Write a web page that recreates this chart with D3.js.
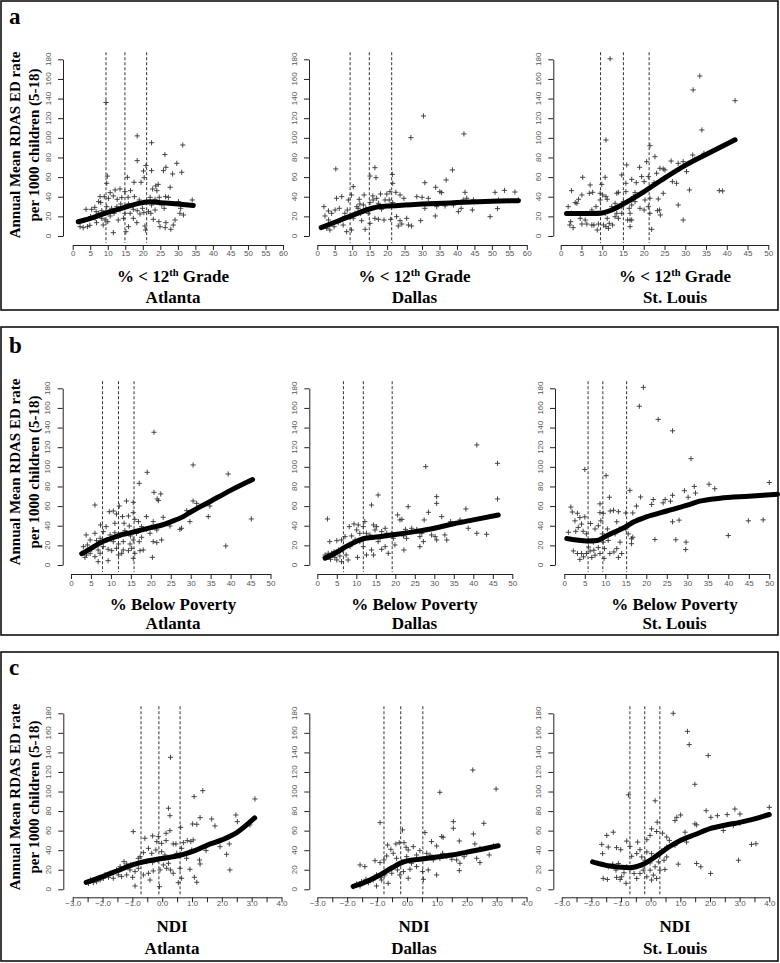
<!DOCTYPE html>
<html><head><meta charset="utf-8">
<script src="https://cdn.jsdelivr.net/npm/d3@7"></script>
<style>body{margin:0;background:#fff}</style>
</head><body><svg id="c" width="780" height="963"></svg>
<script>
// ---------------- DATA ----------------
const cities = ["Atlanta", "Dallas", "St. Louis"];
const panelLetters = ["a", "b", "c"];
const yTitle = ["Annual Mean RDAS ED rate", "per 1000 children (5-18)"];
const yTicks = [0, 20, 40, 60, 80, 100, 120, 140, 160, 180];
const xTicksEdu60 = [0, 5, 10, 15, 20, 25, 30, 35, 40, 45, 50, 55, 60];
const xTicksEdu50 = [0, 5, 10, 15, 20, 25, 30, 35, 40, 45, 50];
const xTicksPov = [0, 5, 10, 15, 20, 25, 30, 35, 40, 45, 50];
const xTicksNdi = [-3, -2.5, -2, -1.5, -1, -0.5, 0, 0.5, 1, 1.5, 2, 2.5, 3, 3.5, 4];

// cut points (dashed lines)
const cutEduAtl = [9.5, 14.9, 21.1];
const cutEduDal = [9.4, 14.9, 21.3];
const cutEduStl = [9.6, 15.1, 21.3];
const cutPovAtl = [7.9, 11.9, 15.8];
const cutPovDal = [6.7, 11.8, 19.2];
const cutPovStl = [5.8, 9.4, 15.2];
const cutNdiAtl = [-0.71, -0.11, 0.60];
const cutNdiDal = [-0.77, -0.21, 0.53];
const cutNdiStl = [-0.70, -0.20, 0.31];

// scatter points [x, rate]
const eduAtl = [[9.5,136],[18.4,102],[22.5,95],[31.4,92.7],[26.3,83],[18.4,76.8],[29.7,74],[26.6,70],[20.9,71.7],[20.2,66.2],[22.5,66.6],[25.9,66.6],[28.5,63.2],[31.1,64.9],[9.9,61],[15.6,59.8],[9.7,53.7],[17.5,54.7],[19.5,54.7],[20.4,59.4],[24.4,52.6],[23.7,51],[27.8,49.6],[22.8,47.9],[24,46.2],[12.1,46.9],[13.5,47.9],[16.5,46.2],[10.7,44.2],[14.9,45.2],[8,34],[7.8,40.1],[9,40.1],[10.2,38.4],[11.6,40.8],[12.7,37.4],[14,39.1],[15.8,39.4],[17.6,40.1],[19,36.7],[21.1,35],[22.1,39.4],[23.5,37.4],[24.7,39.4],[26.5,40.1],[27.3,39.4],[30.2,35],[34.1,36.7],[25.4,31.6],[22.5,31.6],[23.5,26.5],[26.1,28.2],[30.8,28.2],[30.6,23.1],[31.6,21.4],[29.2,16.3],[23,17],[24.6,14.6],[26.6,13.6],[24.9,9.5],[28.7,11.2],[28,6.8],[26.4,8.5],[20.8,6.1],[20.6,10.2],[2.1,9.5],[3,8.5],[4.2,9.5],[4.9,10.9],[3.3,16.3],[3.8,27.2],[5.4,27.2],[6.7,24.8],[7.4,35],[6.3,29.2],[7.4,23.1],[8.3,18],[9.2,16.3],[10,14.6],[10.7,20.4],[11.8,23.1],[11.6,3.4],[13,16.3],[14.5,18],[15.2,4.4],[15.9,9.5],[14.9,23.1],[16.4,23.1],[17.3,18],[18.3,13.6],[18.4,25.8],[19.2,22.4],[19.9,28.2],[20.3,23.8],[21.6,24.8],[22.3,23.1],[8.7,11.2],[6.8,13.6],[12.6,29.9],[13.7,32.6],[11.1,28.2],[9.7,29.9],[15.9,32.6],[17.1,30.6],[9.2,23.1],[13.5,26.5],[17.3,27.2],[5.1,19.7],[6.4,18],[8.3,25.8]];
const eduDal = [[30.4,122.3],[42,104],[26.8,100.2],[38.7,67.3],[5.3,68.3],[16.5,69.6],[15.1,61.1],[16.8,59.4],[21.5,62.8],[21.6,53.7],[30.8,54.3],[36.9,57.1],[33.9,49.6],[35.1,45.2],[35.6,44.2],[42.3,44.5],[50.9,44.5],[53.6,46.5],[56.6,44.8],[57.6,36.7],[51.9,36.7],[51.6,27.9],[49.5,19.7],[44.7,36.7],[42.8,38.4],[41.8,36.7],[44.4,26.5],[40.4,24.8],[41.2,28.2],[33.8,20.4],[34.2,29.9],[36.6,30.6],[39,31.6],[31.8,38.4],[30.8,28.2],[29.6,15.6],[28.5,40.1],[30,39.4],[27,10.2],[25.6,18],[26.1,11.2],[24.2,12.2],[23.2,10.2],[24.8,38.4],[23.7,41.8],[22.5,44.5],[20.8,45.2],[19.9,42.8],[18.1,42.8],[17,38.4],[19.4,36.7],[20.6,36.7],[21.6,34],[21,17],[17.5,17],[19.1,16.3],[16.5,18],[15.1,12.9],[13.7,6.8],[12.7,15.6],[14.6,23.1],[13.9,28.2],[13.2,31.6],[12.2,32.6],[15.1,34],[16,36.7],[13.4,41.8],[11.7,28.2],[10.8,23.1],[10.3,18],[9.8,6.1],[10.3,50.3],[9.8,41.8],[8.9,36.7],[8.6,26.5],[7.9,23.1],[7.3,18],[7,40.1],[5.5,38.4],[6.3,28.2],[5.1,26.5],[4.1,23.1],[3.2,16.3],[2.2,20.4],[1.9,29.9],[3.2,25.5],[3.6,6.1],[4.8,9.5],[6,13.6],[7.4,11.2],[8.4,4.4],[2.7,7.8],[11.3,29.9],[12,37.4],[12.4,23.1],[15.9,40.8],[17.5,33.3],[18.4,27.2],[22.7,19.7],[23.7,15.6]];
const eduStl = [[11.9,180.5],[33.5,163],[31.9,148.8],[42,137.9],[10.9,97.8],[34,108],[34.5,84.2],[31.8,82.5],[32.3,78.1],[22.7,80.8],[21.5,92],[26.6,76.4],[29.5,75.7],[28.3,74],[20.7,75.7],[21.1,60.5],[19,70],[15.9,72.4],[14.7,62.2],[15.7,53.7],[17.1,57.7],[18.2,54.3],[19.5,60.5],[20.1,55.4],[22.5,54.3],[23.1,63.9],[23.9,69],[24.7,68.3],[24.7,43.5],[23.5,37.7],[23.8,26.5],[23.3,25.8],[24,21.4],[21.5,23.1],[21.9,6.8],[21.1,29.9],[21.5,38.4],[20.3,36.7],[20.1,26.5],[19.1,28.2],[17.9,35],[17.5,40.1],[17.9,44.2],[17.1,31.6],[16.5,28.2],[16.7,23.1],[16.7,16.3],[17.1,16.3],[16.1,16.3],[16.7,9.5],[15.7,45.2],[15.1,35],[14.7,23.1],[14.7,29.9],[13.5,43.5],[13.9,44.5],[13.1,33.3],[13.5,23.1],[13.9,18],[13.1,19.7],[12.3,29.9],[11.7,12.9],[12.5,11.2],[11.2,37.4],[10.9,40.1],[10.7,59.8],[9.9,52.6],[9.5,43.5],[10.1,41.8],[9.5,36.7],[10.7,23.1],[11.2,18],[10.9,9.5],[11.5,7.8],[10.3,11.2],[9.1,12.2],[8,11.2],[8.8,6.1],[7.5,11.2],[6.3,12.2],[8.5,29.9],[7.5,26.5],[7.7,44.5],[7.1,52],[5.3,59.8],[6.9,43.5],[5.9,16.3],[4.7,18],[5.1,12.2],[4.3,37.4],[5.1,41.8],[3.5,34],[3.9,33.3],[2.6,46.2],[1.8,29.9],[2.6,23.1],[2.2,11.2],[3,8.5],[2.4,14.6],[28.3,31.6],[29.5,16.3],[31,46.9],[27.9,53.7],[30.3,65.6],[38.2,46.2],[39,45.9],[25.1,67.3],[26.9,55.4]];
const povAtl = [[20.8,135.2],[30.6,101.9],[19.1,94.4],[39.4,92.7],[17.1,83.2],[20.8,74],[22.5,72.4],[21.6,67.3],[21.9,65.6],[30.6,65.2],[31.5,62.8],[34.8,60.1],[15.6,63.9],[13.9,65.2],[12.1,60.1],[6,61.1],[9.6,54.3],[10.6,55],[11.4,52],[12.9,49.3],[14.4,49.9],[15.6,53.3],[18.9,49.3],[16,46.5],[20.6,44.2],[23.1,48.6],[29,55.4],[29.8,44.2],[7.4,40.8],[8.8,39.1],[11,42.5],[13.3,42.5],[14.6,39.7],[16.9,44.2],[17.7,39.1],[18.9,36.3],[20.2,38.4],[21.5,35.7],[24.8,39.7],[27.3,36.3],[8.1,34],[9.8,30.6],[11,32.9],[12.3,30.6],[13.5,35],[14.9,29.6],[16.4,32.3],[17.7,28.2],[19.8,32.3],[3.8,30.6],[6,32.3],[4.8,25.5],[6.4,24.8],[7.3,27.2],[9,25.5],[10.6,23.8],[11.9,21.4],[13.1,23.8],[14.8,21.4],[15.6,25.5],[17.1,23.8],[20.6,23.8],[21.5,22.8],[22.7,25.5],[3.1,18.7],[4.1,20.4],[5.2,16],[6.8,15.3],[8.1,18.7],[9.3,16],[10.2,14.6],[11.4,17],[13.1,15.3],[14.4,14.6],[15.2,17],[17.3,14.6],[18.1,15.3],[2.7,11.9],[3.9,10.2],[4.8,11.9],[6,8.5],[3.5,7.8],[7.3,11.9],[6.8,3.4],[9.3,4.4],[11.9,10.2],[12.7,11.9],[15.6,6.8],[16,11.9],[20.4,7.8],[38.8,19.4],[45.2,46.9],[34.4,49.3],[27.7,37.4]];
const povDal = [[40.9,122.3],[46.2,103.6],[27.8,100.2],[46.2,67.3],[30.6,69.6],[30.6,62.8],[15.6,71.3],[13.9,61.1],[23.3,59.4],[38.1,57.1],[28.5,53.7],[31.9,49.3],[2.6,46.9],[27.4,45.9],[34.2,44.2],[36.6,45.9],[38.7,37.4],[20.6,51],[21.2,45.9],[21.7,46.5],[22.6,36.3],[24.2,37.4],[25.5,36.3],[26.8,32.3],[26.3,28.9],[27.2,23.8],[26.3,18.7],[29.3,30.6],[30.2,28.9],[30.6,25.5],[33.2,25.5],[32.7,30.6],[40.9,32.3],[43.4,31.3],[22.2,15.3],[22.9,27.2],[22.1,29.6],[19.9,20.4],[19.5,27.2],[19.1,32.3],[18.2,11.9],[17.4,18.7],[16.5,16],[17.8,32.3],[17.4,37.4],[16.5,34],[15.2,39.1],[14.4,40.8],[14.8,35.7],[13.5,30.6],[12.6,32.3],[12.2,44.2],[11.8,39.1],[13.9,15.3],[12.6,10.2],[14.4,10.2],[11.8,18.7],[10.9,23.8],[10.9,32.3],[10.5,40.8],[10.1,35.7],[9.4,41.8],[8.2,39.1],[8.8,29.6],[9.7,25.5],[8.4,18.7],[10.3,7.8],[7.9,5.1],[7.1,28.9],[6.2,25.5],[6.5,15.3],[5.8,9.2],[5,24.8],[5.4,15.3],[4.3,13.6],[4.5,7.8],[3.4,5.8],[3.2,23.8],[2.8,11.9],[2.4,7.8],[2,10.2],[3.7,11.9],[6.2,3.4],[5,5.1],[7.4,10.2],[16.1,27.2],[15.6,23.8]];
const povStl = [[19.3,181],[18.3,161.7],[22.9,148.3],[26.4,136.7],[30.9,108.3],[5,97.3],[10.2,91],[50,84],[35.3,82.3],[31.7,80],[36.7,77.7],[16,76],[29.3,75.7],[32,73.3],[26.4,71],[18.6,69.3],[11,69],[21.7,66.7],[24.6,66.7],[25.9,65],[21.3,61.7],[17.6,60],[1.6,59],[8.7,62.3],[11.2,55],[12,55.7],[13.2,54.3],[15,53],[16.7,53],[8.7,53.3],[9.5,52.7],[1.95,54],[3.2,52.7],[3.8,48.3],[2.6,45],[5,49],[6.4,42.3],[4.2,41.7],[3.4,38.3],[2.8,34.3],[1,33.3],[4.6,34.3],[5.4,31.7],[7.5,36.7],[8.3,40],[10.5,36.7],[11.1,31.7],[12.8,44],[13.4,36.7],[12.4,31.7],[15,36.7],[15.6,31.7],[16.4,26.7],[16.7,28.3],[16.4,21.7],[8.9,45],[9.3,31.7],[9.5,23.3],[10.7,25],[9.8,16.7],[9.7,6.7],[11.1,11.7],[12.1,13.3],[12.8,16.7],[13.6,23.3],[14,11.7],[13.2,7.7],[7.1,23.3],[5.9,18.3],[6.3,14.3],[7.2,15],[7.5,10],[6.7,7.7],[5.4,11.7],[4.2,11.7],[3.8,5.7],[3.2,11.7],[2.2,14.3],[4.7,8.3],[8.3,17.7],[8.7,11.7],[22.1,26],[27.2,25.7],[29.7,23.3],[29.6,15.7],[28,45.7],[26.4,44],[40,30],[44.9,45],[48.5,46],[30.2,69],[24.1,63.3]];
const ndiAtl = [[0.28,135],[1.36,100.9],[1.07,94.8],[3.11,92.4],[0.21,82.9],[2.47,76],[1.27,73.3],[1.66,71.9],[0.26,75.3],[1.02,66.8],[1.16,66.5],[0.62,63.4],[1.77,64.8],[-0.97,59],[0.26,60],[2.94,65.8],[2.52,69.2],[0.13,57.3],[-0.13,53.9],[-0.32,54.6],[-0.58,52.2],[-0.18,48.8],[-0.02,47],[0.13,49.8],[0.37,46.4],[0.46,46.4],[0.71,47.7],[0.84,49.8],[0.96,48.8],[1.04,50.5],[1.47,39.6],[1.94,43.6],[2.25,46.4],[2.27,19.8],[2.16,35.8],[0.82,31.7],[0.99,40.2],[1.25,30],[1.27,25.9],[0.93,20.5],[1.08,12.3],[1.16,7.2],[0.6,21.5],[0.65,11.3],[0.54,6.8],[0.37,16.4],[0.28,19.8],[0.21,26.6],[0.09,35.1],[-0.02,38.5],[-0.21,40.2],[-0.35,36.8],[-0.46,41.9],[-0.63,37.5],[-0.74,33.4],[-0.52,28.3],[-0.32,27.3],[-0.16,30],[0.04,24.9],[0.15,21.5],[-0.07,19.8],[-0.3,18.8],[-0.46,16.4],[-0.63,14.7],[-0.41,9.5],[-0.8,21.5],[-0.91,18.1],[-0.99,12.3],[-0.91,3.4],[-1.08,19.8],[-1.19,25.9],[-1.28,28.3],[-1.41,23.2],[-1.53,19.8],[-1.64,17],[-1.75,16.4],[-1.8,12.3],[-1.64,11.3],[-1.47,14.7],[-1.36,13],[-1.19,14.7],[-1.06,24.9],[-1.97,11.3],[-2.08,9.5],[-2.2,7.8],[-2.31,6.8],[-2.47,6.1],[-2.4,9.5],[-1.92,14.7],[-0.8,31.7],[-0.09,2.7],[0.49,36.8],[0.65,41.9]];
const ndiDal = [[2.2,122],[2.98,102.6],[1.1,99.2],[-0.9,68.2],[-0.15,60.7],[1.55,69.2],[2.57,67.5],[0.6,58],[1.55,62.4],[1.16,53.9],[1.21,53.2],[2.22,56.6],[1.75,49.4],[0.82,48.8],[0.99,44.3],[2.27,46.4],[2.44,41.9],[-0.26,47.7],[-0.1,47.7],[-0.03,43],[-0.37,46.4],[0.04,40.2],[0.21,43.6],[-0.65,45.3],[-0.54,40.9],[-0.46,36.8],[-0.68,34.1],[-0.77,30],[-0.9,27.3],[-1.07,29.3],[-1.57,24.9],[-1.41,23.2],[-0.35,31.7],[-0.18,28.3],[-0.01,33.4],[0.15,26.6],[0.32,23.2],[0.1,20.5],[-0.12,18.1],[-0.24,14.7],[0.04,11.3],[-0.32,19.8],[-0.51,16.4],[-0.63,19.8],[-0.74,14.7],[-0.88,12.3],[-0.63,6.1],[-0.85,9.5],[-1.02,14.7],[-1.13,9.5],[-1.02,3.4],[-1.29,6.8],[-1.37,10.2],[-1.52,7.8],[-1.57,3.4],[-1.68,5.5],[-1.8,2.7],[0.52,18.1],[0.55,10.2],[0.71,19.8],[0.99,14.7],[0.88,30],[1.1,31.7],[1.19,36.8],[1.33,33.4],[1.5,30.7],[1.66,30],[1.75,19.1],[1.77,26.6],[1.91,33.4],[2,36.8],[2.33,31.7],[2.44,27.3],[2.75,35.1],[2.89,44.3],[0.66,36.8],[0.77,35.1],[0.32,35.1],[0.43,39.6]];
const ndiStl = [[0.76,180],[1.24,161.5],[1.3,148],[1.94,136.8],[1.49,107.4],[-0.75,96.6],[0.15,90.5],[4,83.8],[1.87,80.4],[2.84,82.1],[3.01,77],[2.25,75.3],[1.01,76],[0.88,73.6],[0.82,70.3],[2.03,73.6],[2.58,76.4],[1.55,65.9],[1.49,66.9],[0.22,68.6],[0.03,61.8],[0.2,59.1],[0.4,57.4],[-1.26,58.4],[-1.48,55.1],[-1.65,45.9],[-1.43,43.2],[-1.15,42.6],[-1.01,40.5],[-0.81,49.3],[-0.7,43.9],[-0.44,48.3],[-0.13,50.7],[-0.02,55.1],[0.54,53.4],[0.63,50],[1.16,58.4],[1.21,48.3],[0.82,44.9],[0.54,43.2],[0.37,39.2],[0.2,34.8],[0.03,36.5],[-0.13,38.2],[-0.3,33.1],[-0.47,36.5],[-0.64,33.8],[-0.36,40.5],[-0.19,29.7],[-0.02,27],[0.15,23],[0.26,28],[0.45,29.7],[0.31,19.6],[0.48,20.3],[0.2,11.1],[0.09,14.5],[-0.02,19.6],[-0.13,12.8],[0.03,9.5],[-0.25,19.6],[-0.36,16.2],[-0.47,11.1],[-0.56,16.2],[-0.7,20.3],[-0.81,23],[-0.9,16.9],[-0.98,12.8],[-0.83,6.1],[-1.03,10.1],[-1.15,12.2],[-1.17,19.6],[-1.09,26.4],[-1.28,25.7],[-1.43,23],[-1.46,10.1],[-1.6,11.1],[-1.8,27],[-1.62,36.5],[0.93,25.7],[1.55,26.4],[1.69,23],[2.02,16.2],[2.96,29.7],[3.4,45.9],[3.55,46.6],[2.45,60.1],[3.01,67.6],[2.79,65.2],[0.54,33.1]];

// smooth fitted curves [x, rate]
const eduAtlFit = [[1.6,14.5],[5,18],[10,24],[15,29.5],[20,34],[22,35],[25,34],[30,32.5],[34.4,31]];
const eduDalFit = [[1.1,8.5],[5,14],[10,21],[15,27.5],[18,30],[20,30.5],[25,31.5],[30,32.5],[40,34],[50,35.3],[57.6,36]];
const eduStlFit = [[1.4,23],[5,23],[8,23],[10,23.5],[12,26],[15,32.5],[20,45],[25,59],[30,72],[35,83],[42,98]];
const povAtlFit = [[2.7,11.5],[5,17],[8,24],[10,27],[12,30],[15,33],[18,36],[20,38],[23,41],[25,44],[28,49],[30,54],[35,65],[40,76],[45.5,87]];
const povDalFit = [[2,7],[5,13],[7,18],[10,24],[12,27],[15,28.5],[20,31],[25,34],[30,37.5],[35,42],[40,46],[46.4,51]];
const povStlFit = [[0.6,27],[3,25.5],[5.5,24.5],[8,25],[10,29],[12,33],[15,39],[17,44],[20,49],[25,55],[30,61],[33,65],[38,68],[45,70],[52,72]];
const ndiAtlFit = [[-2.55,7],[-2,13],[-1.5,19],[-1,25],[-0.5,29],[0,31.5],[0.5,34],[1,38.5],[1.5,45],[2,50.5],[2.5,58],[3.1,73]];
const ndiDalFit = [[-1.8,3],[-1.5,6],[-1,13],[-0.5,22],[-0.2,27],[0,29],[0.5,31],[1,33],[1.5,35],[2,38],[2.5,41],[3.05,44.5]];
const ndiStlFit = [[-1.96,28],[-1.5,24.5],[-1,22.5],[-0.7,22],[-0.4,24],[-0.2,26.5],[0,30],[0.3,36.5],[0.6,43],[1,50],[1.5,56],[2,62],[2.5,65.5],[3,68.5],[3.5,72],[4,76.5]];

// ---------------- LAYOUT ----------------
const serif = "'Liberation Serif','Times New Roman',serif";
const sans = "'Liberation Sans',Arial,Helvetica,sans-serif";
const rows = [
  {box:[1,310], letterY:24, y0:236, y180:59.3, axisY:245, lblDy:12, b1:282, b2:302.5, yTitleC:145,
   cols:[{a:72.7,b:283,ax:63,tc:173},{a:317.3,b:526.8,ax:309,tc:414.5},{a:560.7,b:768.3,ax:553.3,tc:675}]},
  {box:[327,635], letterY:353, y0:565, y180:388.3, axisY:574, lblDy:12.7, b1:609.5, b2:629, yTitleC:472,
   cols:[{a:71,b:270.5,ax:62.7,tc:173},{a:317.3,b:512.3,ax:309.3,tc:414.5},{a:564.3,b:769.3,ax:555,tc:674.5}]},
  {box:[652,961], letterY:675, y0:889.3, y180:713.3, axisY:897.3, lblDy:9.5, b1:931.5, b2:953.5, yTitleC:797,
   cols:[{a:72.7,b:281.5,ax:63.3,tc:172},{a:317.3,b:526.6,ax:309.3,tc:414},{a:561.7,b:769.3,ax:553.3,tc:675}]}
];

const panels = [
  {r:0,c:0,pts:eduAtl,fit:eduAtlFit,cuts:cutEduAtl,ticks:xTicksEdu60},
  {r:0,c:1,pts:eduDal,fit:eduDalFit,cuts:cutEduDal,ticks:xTicksEdu60},
  {r:0,c:2,pts:eduStl,fit:eduStlFit,cuts:cutEduStl,ticks:xTicksEdu50},
  {r:1,c:0,pts:povAtl,fit:povAtlFit,cuts:cutPovAtl,ticks:xTicksPov},
  {r:1,c:1,pts:povDal,fit:povDalFit,cuts:cutPovDal,ticks:xTicksPov},
  {r:1,c:2,pts:povStl,fit:povStlFit,cuts:cutPovStl,ticks:xTicksPov},
  {r:2,c:0,pts:ndiAtl,fit:ndiAtlFit,cuts:cutNdiAtl,ticks:xTicksNdi},
  {r:2,c:1,pts:ndiDal,fit:ndiDalFit,cuts:cutNdiDal,ticks:xTicksNdi},
  {r:2,c:2,pts:ndiStl,fit:ndiStlFit,cuts:cutNdiStl,ticks:xTicksNdi}
];

const svg = d3.select("#c");
svg.append("rect").attr("width",780).attr("height",963).attr("fill","#fff");

rows.forEach((R, ri) => {
  svg.append("rect").attr("x",1).attr("y",R.box[0]).attr("width",777).attr("height",R.box[1]-R.box[0])
    .attr("fill","none").attr("stroke","#111").attr("stroke-width",1.6);
  svg.append("text").attr("x",9).attr("y",R.letterY).text(panelLetters[ri])
    .attr("font-family",serif).attr("font-weight","bold").attr("font-size",23).attr("fill","#000");
  yTitle.forEach((t, i) => {
    svg.append("text").attr("transform",`translate(${i===0?15.3:34.2},${R.yTitleC}) rotate(-90)`)
      .attr("text-anchor","middle").attr("dominant-baseline","central")
      .attr("font-family",serif).attr("font-weight","bold").attr("font-size",15).attr("fill","#000").text(t);
  });
  R.cols.forEach((C, ci) => {
    const t1 = svg.append("text").attr("x",C.tc).attr("y",R.b1).attr("text-anchor","middle")
      .attr("font-family",serif).attr("font-weight","bold").attr("font-size",17).attr("fill","#000");
    if (ri === 0) {
      t1.append("tspan").text("% < 12");
      t1.append("tspan").text("th").attr("font-size",10.5).attr("dy",-6);
      t1.append("tspan").text(" Grade").attr("dy",6);
    } else if (ri === 1) {
      t1.text("% Below Poverty");
    } else {
      t1.text("NDI");
    }
    svg.append("text").attr("x",C.tc).attr("y",R.b2).attr("text-anchor","middle")
      .attr("font-family",serif).attr("font-weight","bold").attr("font-size",17).attr("fill","#000")
      .text(cities[ci]);
  });
});

const fmtNdi = d3.format(".1f");
panels.forEach(P => {
  const R = rows[P.r], C = R.cols[P.c];
  const lo = P.ticks[0], hi = P.ticks[P.ticks.length-1];
  const x = d3.scaleLinear().domain([lo, hi]).range([C.a, C.b]);
  const y = d3.scaleLinear().domain([0, 180]).range([R.y0, R.y180]);
  const g = svg.append("g");

  const xa = d3.axisBottom(x).tickValues(P.ticks).tickSize(5).tickSizeOuter(0)
    .tickFormat(P.r === 2 ? (d => Number.isInteger(d) ? fmtNdi(d) : "") : d3.format("d"));
  const gx = g.append("g").attr("transform",`translate(0,${R.axisY})`).call(xa);
  gx.selectAll("path,line").attr("stroke","#222").attr("stroke-width",1);
  gx.selectAll("text").attr("y",R.lblDy - 3.2).attr("dy","0.32em")
    .attr("font-family",sans).attr("font-size",8).attr("fill","#555");

  const ya = d3.axisLeft(y).tickValues(yTicks).tickSize(5).tickSizeOuter(0).tickFormat("");
  const gy = g.append("g").attr("transform",`translate(${C.ax},0)`).call(ya);
  gy.selectAll("path,line").attr("stroke","#222").attr("stroke-width",1);
  g.selectAll(".ylab").data(yTicks).join("text")
    .attr("transform", d => `translate(${C.ax-15},${y(d)}) rotate(-90)`)
    .attr("text-anchor","middle").attr("dominant-baseline","central")
    .attr("font-family",sans).attr("font-size",8).attr("fill","#555").text(d => d);

  g.selectAll(".cut").data(P.cuts).join("line")
    .attr("x1", d => x(d)).attr("x2", d => x(d))
    .attr("y1", y(187.2)).attr("y2", y(-7.2))
    .attr("stroke","#333").attr("stroke-width",1).attr("stroke-dasharray","3,2");

  const s = 2.6;
  g.selectAll(".pt").data(P.pts).join("path")
    .attr("d", d => { const px = x(d[0]), py = y(d[1]);
      return `M${px-s},${py}H${px+s}M${px},${py-s}V${py+s}`; })
    .attr("stroke","#333").attr("stroke-width",0.9).attr("fill","none");

  g.append("path").datum(P.fit)
    .attr("d", d3.line().x(d => x(d[0])).y(d => y(d[1])).curve(d3.curveMonotoneX))
    .attr("fill","none").attr("stroke","#000").attr("stroke-width",5).attr("stroke-linecap","round");
});
</script></body></html>
